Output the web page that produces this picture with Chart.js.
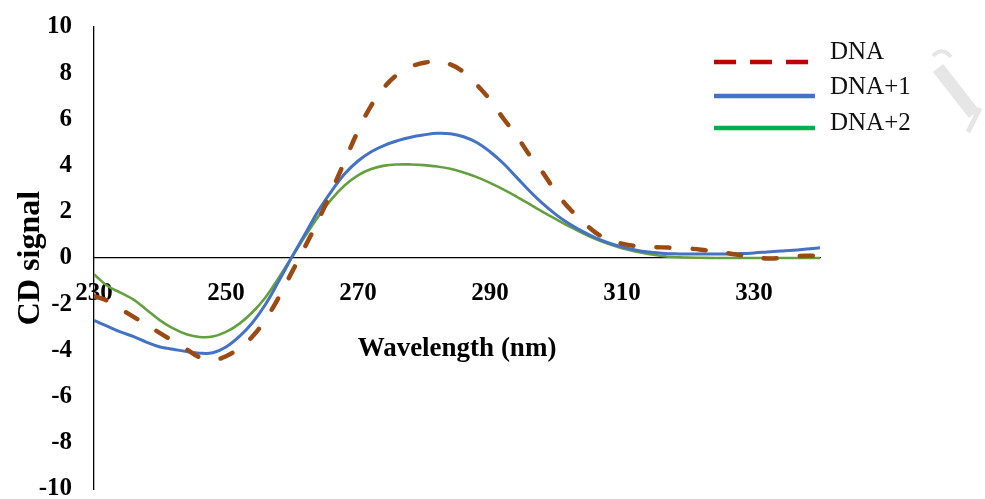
<!DOCTYPE html>
<html>
<head>
<meta charset="utf-8">
<script src="https://cdn.jsdelivr.net/npm/chart.js@4.4.1/dist/chart.umd.min.js"></script>
<style>
  html, body { margin: 0; padding: 0; background: #fff; }
  .forChart { width: 985px; height: 499px; position: relative; }
</style>
</head>
<body>
<div class="forChart"><canvas id="cd_chart"></canvas></div>
<script>
// wavelength grid (nm) and CD signal of each sample
var wavelengths = [230, 232, 234, 236, 238, 240, 242, 244, 246, 248,
                   250, 252, 254, 256, 258, 260, 262, 264, 266, 268,
                   270, 272, 274, 276, 278, 280, 282, 284, 286, 288,
                   290, 292, 294, 296, 298, 300, 302, 304, 306, 308,
                   310, 312, 314, 316, 318, 320, 322, 324, 326, 328,
                   330, 332, 334, 336, 338, 340]

var cdDNA = [-1.65, -1.85, -2.2, -2.55, -2.9, -3.25, -3.6, -3.95, -4.3, -4.42,
             -4.25, -3.9, -3.4, -2.65, -1.7, -0.6, 0.5, 1.65, 2.9, 4.2,
             5.5, 6.6, 7.4, 7.95, 8.28, 8.45, 8.5, 8.38, 8.05, 7.5,
             6.85, 6.05, 5.3, 4.45, 3.7, 2.85, 2.15, 1.6, 1.1, 0.78,
             0.62, 0.52, 0.48, 0.46, 0.44, 0.41, 0.36, 0.29, 0.21, 0.12,
             0.04, -0.02, 0.0, 0.06, 0.1, 0.08]

var cdDNA1 = [-2.7, -2.95, -3.2, -3.4, -3.65, -3.85, -3.95, -4.05, -4.12, -4.1,
              -3.85, -3.4, -2.8, -2.0, -1.0, 0.05, 1.05, 2.05, 2.9, 3.65,
              4.2, 4.6, 4.88, 5.08, 5.23, 5.33, 5.4, 5.38, 5.25, 5.0,
              4.6, 4.1, 3.5, 2.9, 2.35, 1.88, 1.48, 1.15, 0.87, 0.65,
              0.48, 0.35, 0.26, 0.21, 0.18, 0.17, 0.17, 0.17, 0.17, 0.19,
              0.22, 0.26, 0.3, 0.34, 0.39, 0.44]

var cdDNA2 = [-0.7, -1.2, -1.5, -1.8, -2.25, -2.7, -3.05, -3.3, -3.42, -3.4,
              -3.2, -2.85, -2.35, -1.7, -0.85, 0.05, 0.95, 1.8, 2.55, 3.15,
              3.58, 3.85, 4.0, 4.05, 4.05, 4.02, 3.96, 3.86, 3.7, 3.5,
              3.25, 2.97, 2.66, 2.33, 2.0, 1.68, 1.37, 1.08, 0.82, 0.6,
              0.42, 0.28, 0.17, 0.09, 0.04, 0.02, 0.01, 0.0, 0.0, 0.0,
              0.0, 0.0, 0.0, 0.0, 0.0, 0.0]

var seriesLabels = ['DNA', 'DNA+1', 'DNA+2']
var xTickValues = [230, 250, 270, 290, 310, 330]

var serif = '"Liberation Serif", "Times New Roman", serif'

function toPoints(values) {
  return values.map(function (v, i) { return { x: wavelengths[i], y: v } })
}

// legend keys drawn at the top right, one row per dataset
var legendKeys = [
  { color: '#C00000', dash: [22, 14], width: 4.5, lineY: 62, textY: 52 },
  { color: '#4472C4', dash: [], width: 4.5, lineY: 96, textY: 87 },
  { color: '#00B050', dash: [], width: 4.5, lineY: 128, textY: 123 }
]

var sideLegend = {
  id: 'sideLegend',
  afterDraw: function (chart) {
    var ctx = chart.ctx
    ctx.save()
    legendKeys.forEach(function (key, i) {
      ctx.beginPath()
      ctx.setLineDash(key.dash)
      ctx.lineCap = 'butt'
      ctx.strokeStyle = key.color
      ctx.lineWidth = key.width
      ctx.moveTo(714, key.lineY)
      ctx.lineTo(815, key.lineY)
      ctx.stroke()
      ctx.setLineDash([])
      ctx.fillStyle = '#111'
      ctx.font = '25px ' + serif
      ctx.textBaseline = 'middle'
      ctx.textAlign = 'left'
      ctx.fillText(chart.data.datasets[i].label, 830, key.textY)
    })
    // faint stamp fragment on the right edge
    ctx.strokeStyle = '#e6e6e6'
    ctx.lineCap = 'butt'
    ctx.lineWidth = 4
    ctx.beginPath()
    ctx.moveTo(933, 56)
    ctx.quadraticCurveTo(942, 46, 951, 57)
    ctx.stroke()
    ctx.lineWidth = 13
    ctx.beginPath()
    ctx.moveTo(938, 68)
    ctx.lineTo(974, 114)
    ctx.stroke()
    ctx.lineWidth = 5
    ctx.beginPath()
    ctx.moveTo(968, 132)
    ctx.lineTo(980, 108)
    ctx.stroke()
    ctx.restore()
  }
}

var config = {
  type: 'line',
  data: {
    datasets: [{
      label: seriesLabels[0],
      data: toPoints(cdDNA),
      borderColor: '#9C4A14',
      borderWidth: 4.5,
      borderDash: [13, 23],
      borderCapStyle: 'round',
      pointRadius: 0,
      tension: 0.4
    }, {
      label: seriesLabels[1],
      data: toPoints(cdDNA1),
      borderColor: '#4472C4',
      borderWidth: 3,
      pointRadius: 0,
      tension: 0.4
    }, {
      label: seriesLabels[2],
      data: toPoints(cdDNA2),
      borderColor: '#64A040',
      borderWidth: 2.6,
      pointRadius: 0,
      tension: 0.4
    }]
  },
  options: {
    responsive: true,
    maintainAspectRatio: false,
    animation: false,
    layout: { padding: { left: 0, top: 27, right: 165, bottom: 10 } },
    plugins: {
      legend: { display: false },
      tooltip: { enabled: false }
    },
    scales: {
      x: {
        type: 'linear',
        min: 230,
        max: 340,
        position: { y: 0 },
        afterBuildTicks: function (scale) {
          scale.ticks = xTickValues.map(function (v) { return { value: v } })
        },
        afterFit: function (scale) {
          scale.paddingLeft = 0
          scale.paddingRight = 0
        },
        grid: { display: false, drawTicks: false },
        border: { display: true, color: '#000', width: 1.3 },
        ticks: {
          color: '#000',
          padding: 21,
          maxRotation: 0,
          autoSkip: false,
          font: { family: serif, size: 25, weight: 'bold' }
        },
        title: {
          display: true,
          text: 'Wavelength (nm)',
          color: '#000',
          padding: { top: 3, bottom: 0 },
          font: { family: serif, size: 27, weight: 'bold' }
        }
      },
      y: {
        min: -10,
        max: 10,
        afterFit: function (scale) {
          scale.width = 94
          scale.paddingTop = 0
          scale.paddingBottom = 0
        },
        grid: { display: false, drawTicks: false },
        border: { display: true, color: '#000', width: 1.3 },
        ticks: {
          stepSize: 2,
          color: '#000',
          padding: 22,
          font: { family: serif, size: 25, weight: 'bold' }
        },
        title: {
          display: true,
          text: 'CD signal',
          color: '#000',
          padding: { top: 12, bottom: 0 },
          font: { family: serif, size: 32, weight: 'bold' }
        }
      }
    }
  },
  plugins: [sideLegend]
}

var ctx = document.getElementById('cd_chart').getContext('2d')
var myChart = new Chart(ctx, config)
</script>
</body>
</html>
